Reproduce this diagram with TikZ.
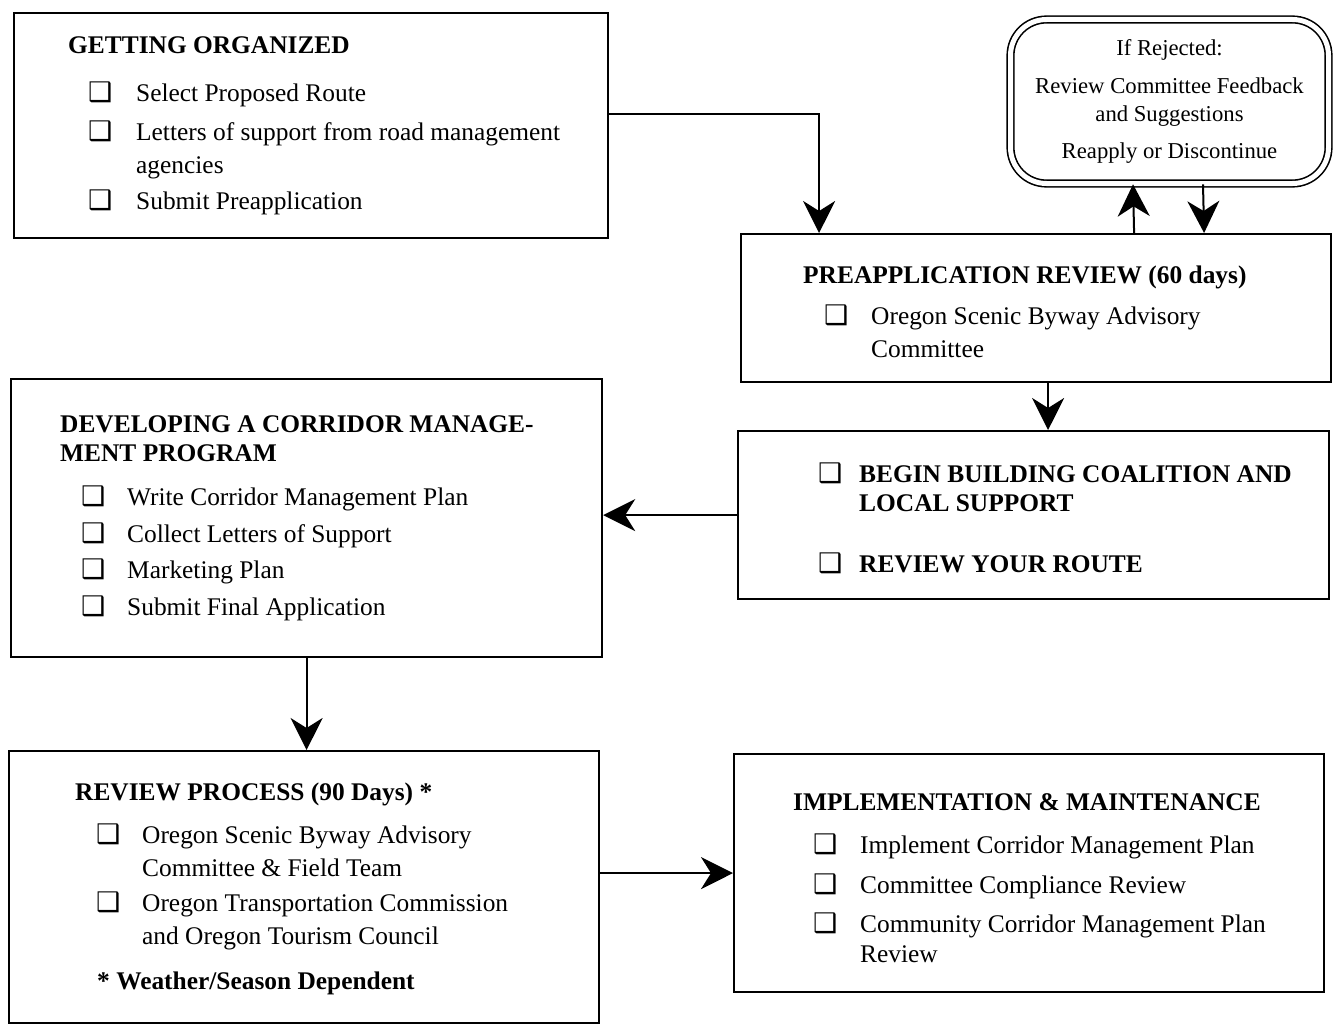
\documentclass[tikz,border=0pt]{standalone}
\usepackage{fontspec}
\setmainfont{Liberation Serif}
\newfontfamily\symfont{DejaVu Sans}
\usetikzlibrary{arrows.meta}
\newcommand{\cb}{{\symfont\bfseries\fontsize{27}{27}\selectfont ❑}}

\begin{document}
\begin{tikzpicture}[
        x=1pt, y=-1pt,
        box/.style={
            draw,
            line width=2.2pt,
            anchor=north west,
            inner sep=0pt
        },
        txt/.style={
            anchor=base west,
            inner sep=0pt,
            font=\fontsize{25.4}{33}\selectfont
        },
        head/.style={
            txt,
            font=\fontsize{25.4}{33}\selectfont\bfseries
        },
        arr/.style={
            -{Stealth[length=32pt, width=32pt, inset=10pt]},
            line width=2pt
        }
    ]
        \useasboundingbox (0,0) rectangle (1335,1025);

        % --- Cadres ---
        \node[box, minimum width=594pt, minimum height=225pt] (org) at (13,12) {};
        \node[box, minimum width=590pt, minimum height=148pt] (preapp) at (740,233) {};
        \node[box, minimum width=591pt, minimum height=168pt] (begin) at (737,430) {};
        \node[box, minimum width=591pt, minimum height=278pt] (dev) at (10,378) {};
        \node[box, minimum width=590pt, minimum height=272pt] (review) at (8,750) {};
        \node[box, minimum width=590pt, minimum height=238pt] (impl) at (733,753) {};

        % --- Si refus ---
        \node[draw, double, double distance=5pt, line width=1.6pt, rounded corners=36pt,
              minimum width=318pt, minimum height=164pt, align=center,
              font=\fontsize{22.7}{28}\selectfont] (rej) at (1169.5,101.5) {
            If Rejected:\\[10pt]
            Review Committee Feedback\\
            and Suggestions\\[9pt]
            Reapply or Discontinue
        };

        % --- Textes ---
        \node[head] (orgHead) at (68,54) {GETTING ORGANIZED};
        \node[txt] (orgList) at (88,101) {\begin{tabular}[t]{@{}p{48pt}@{}l@{}}
            \cb & Select Proposed Route\\[6pt]
            \cb & Letters of support from road management\\
                & agencies\\[3pt]
            \cb & Submit Preapplication
        \end{tabular}};

        \node[head] (preappHead) at (803,283) {PREAPPLICATION REVIEW (60 days)};
        \node[txt] (preappList) at (824,324) {\begin{tabular}[t]{@{}p{47pt}@{}l@{}}
            \cb & Oregon Scenic Byway Advisory\\
                & Committee
        \end{tabular}};

        \node[head] (beginList) at (818,482) {\begin{tabular}[t]{@{}p{41pt}@{}l@{}}
            \cb & BEGIN BUILDING COALITION AND\\[-4pt]
                & LOCAL SUPPORT\\[28pt]
            \cb & REVIEW YOUR ROUTE
        \end{tabular}};

        \node[head] (devHead) at (60,432) {\begin{tabular}[t]{@{}l@{}}
            DEVELOPING A CORRIDOR MANAGE-\\[-4pt]
            MENT PROGRAM
        \end{tabular}};
        \node[txt] (devList) at (81,505) {\begin{tabular}[t]{@{}p{46pt}@{}l@{}}
            \cb & Write Corridor Management Plan\\[4pt]
            \cb & Collect Letters of Support\\[3pt]
            \cb & Marketing Plan\\[4pt]
            \cb & Submit Final Application
        \end{tabular}};

        \node[head] (reviewHead) at (75,800) {REVIEW PROCESS (90 Days) *};
        \node[txt] (reviewList) at (96,843) {\begin{tabular}[t]{@{}p{46pt}@{}l@{}}
            \cb & Oregon Scenic Byway Advisory\\
                & Committee \& Field Team\\[2pt]
            \cb & Oregon Transportation Commission\\
                & and Oregon Tourism Council
        \end{tabular}};
        \node[head] (reviewNote) at (97,989) {* Weather/Season Dependent};

        \node[head] (implHead) at (793,810) {IMPLEMENTATION \& MAINTENANCE};
        \node[txt] (implList) at (813,853) {\begin{tabular}[t]{@{}p{47pt}@{}l@{}}
            \cb & Implement Corridor Management Plan\\[7pt]
            \cb & Committee Compliance Review\\[6pt]
            \cb & Community Corridor Management Plan\\[-3pt]
                & Review
        \end{tabular}};

        % --- Fleches ---
        \draw[arr] ([yshift=11.5pt]org.east) -| ([xshift=-217pt]preapp.north);
        \draw[arr] ([xshift=98pt]preapp.north) -- ([xshift=-36.5pt]rej.south);
        \draw[arr] ([xshift=33.5pt]rej.south) -- ([xshift=168pt]preapp.north);
        \draw[arr] ([xshift=12pt]preapp.south) -- ([xshift=14.5pt]begin.north);
        \draw[arr] (begin.west) -- (begin.west -| dev.east);
        \draw[arr] (dev.south) -- (dev.south |- review.north);
        \draw[arr] (impl.west -| review.east) -- (impl.west);
    \end{tikzpicture}
\end{document}
